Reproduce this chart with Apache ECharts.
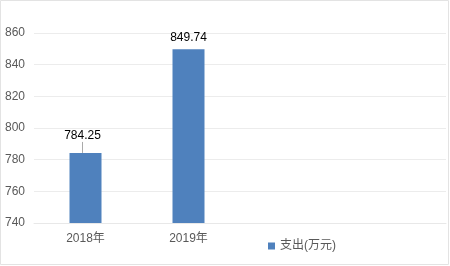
<!DOCTYPE html>
<html><head><meta charset="utf-8">
<script src="https://cdn.jsdelivr.net/npm/echarts@6/dist/echarts.min.js"></script>
<style>html,body{margin:0;padding:0;background:#fff}#c{width:450px;height:266px}</style>
</head><body><div id="c"></div>
<script>
const categories = ['2018年', '2019年', '', ''];
const expenditure = [784.25, 849.74, null, null];
const seriesName = '支出(万元)';
const yMin = 740, yMax = 860, yStep = 20;

const chart = echarts.init(document.getElementById('c'));
const font = '"Liberation Sans","Noto Sans CJK SC",sans-serif';
chart.setOption({
  animation: false,
  backgroundColor: '#fff',
  graphic: [{type: 'rect', shape: {x: 0.5, y: 0.5, width: 448, height: 264}, style: {fill: 'none', stroke: '#e3e3e3', lineWidth: 1}, silent: true}],
  grid: {left: 34, right: 4, top: 33, bottom: 43},
  legend: {
    data: [seriesName], left: 263, top: 235, itemWidth: 7, itemHeight: 7, icon: 'rect',
    textStyle: {color: '#595959', fontSize: 12, fontFamily: font}
  },
  xAxis: {
    type: 'category', data: categories,
    axisLine: {show: true, lineStyle: {color: '#e8e8e8'}},
    axisTick: {show: false},
    axisLabel: {color: '#595959', fontSize: 12, fontFamily: font, margin: 10}
  },
  yAxis: {
    type: 'value', min: yMin, max: yMax, interval: yStep,
    axisLine: {show: false}, axisTick: {show: false},
    splitLine: {lineStyle: {color: '#ececec'}},
    axisLabel: {color: '#595959', fontSize: 12, fontFamily: font, margin: 9}
  },
  series: [{
    name: seriesName, type: 'bar', barWidth: 32,
    data: expenditure.map((v, i) => ({value: v, labelLine: {show: i === 0}})),
    itemStyle: {color: '#4f81bd'},
    label: {show: true, position: 'top', distance: 6, color: '#000', fontSize: 12, fontFamily: font},
    labelLayout: function (p) { return p.dataIndex === 0 ? {dx: -3, dy: -5} : {}; },
    labelLine: {lineStyle: {color: '#aaa', width: 1}}
  }]
});
</script></body></html>
